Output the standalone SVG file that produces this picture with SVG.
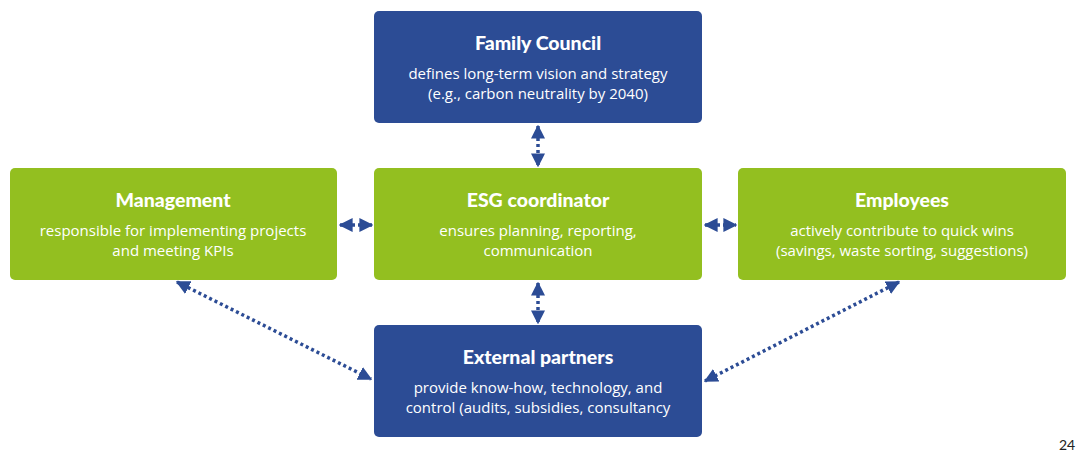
<svg xmlns="http://www.w3.org/2000/svg" width="1081" height="453" viewBox="0 0 1081 453">
<style>
.blue{fill:#2C4C95}
.green{fill:#93BF20}
.t{font-family:Lato,"Open Sans",sans-serif;font-weight:900;font-size:19.5px;fill:#fff;text-anchor:middle}
.s{font-family:"Open Sans",Lato,sans-serif;font-size:15px;fill:#fff;text-anchor:middle}
.c{stroke:#2C4C95;stroke-width:3.5;stroke-dasharray:3 3;fill:none;marker-start:url(#ah);marker-end:url(#ah)}
</style>
<defs>
<marker id="ah" viewBox="0 0 10 10" refX="9" refY="5" markerWidth="4" markerHeight="4" orient="auto-start-reverse" markerUnits="strokeWidth">
<path d="M0,0 L10,5 L0,10 z" fill="#2C4C95"/>
</marker>
</defs>
<rect width="1081" height="453" fill="#fff"/>
<g id="connectors">
<line class="c" x1="538" y1="126" x2="538" y2="166"/>
<line class="c" x1="538" y1="283" x2="538" y2="323"/>
<line class="c" x1="340" y1="225" x2="372" y2="225"/>
<line class="c" x1="705" y1="225" x2="736" y2="225"/>
<line class="c" x1="177" y1="282" x2="371" y2="379"/>
<line class="c" x1="899" y1="282" x2="705" y2="381"/>
</g>
<g id="family-council">
<rect class="blue" x="374" y="11" width="328" height="112" rx="5"/>
<text class="t" x="538" y="50">Family Council</text>
<text class="s" x="538" y="79">defines long-term vision and strategy</text>
<text class="s" x="538" y="99">(e.g., carbon neutrality by 2040)</text>
</g>
<g id="management">
<rect class="green" x="10" y="168" width="327" height="112" rx="5"/>
<text class="t" x="173" y="207">Management</text>
<text class="s" x="173" y="236">responsible for implementing projects</text>
<text class="s" x="173" y="256">and meeting KPIs</text>
</g>
<g id="esg-coordinator">
<rect class="green" x="374" y="168" width="328" height="112" rx="5"/>
<text class="t" x="538" y="207">ESG coordinator</text>
<text class="s" x="538" y="236">ensures planning, reporting,</text>
<text class="s" x="538" y="256">communication</text>
</g>
<g id="employees">
<rect class="green" x="738" y="168" width="328" height="112" rx="5"/>
<text class="t" x="902" y="207">Employees</text>
<text class="s" x="902" y="236">actively contribute to quick wins</text>
<text class="s" x="902" y="256">(savings, waste sorting, suggestions)</text>
</g>
<g id="external-partners">
<rect class="blue" x="374" y="325" width="328" height="112" rx="5"/>
<text class="t" x="538" y="364">External partners</text>
<text class="s" x="538" y="393">provide know-how, technology, and</text>
<text class="s" x="538" y="413">control (audits, subsidies, consultancy</text>
</g>
<text x="1067" y="450" font-family="Lato,'Open Sans',sans-serif" font-size="14" fill="#222" text-anchor="middle">24</text>
</svg>
